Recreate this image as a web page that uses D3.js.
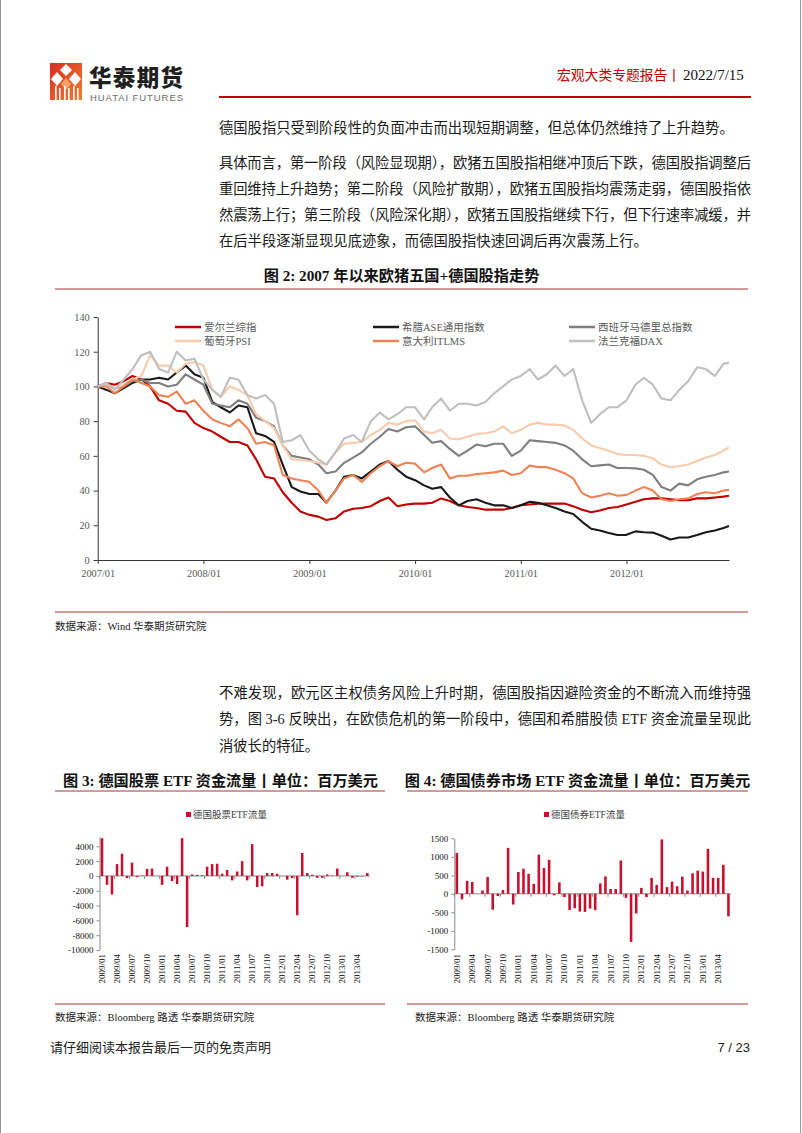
<!DOCTYPE html>
<html><head><meta charset="utf-8">
<script src="https://cdn.jsdelivr.net/npm/d3@7/dist/d3.min.js"></script>
<style>body{margin:0;background:#fff}svg{display:block}</style>
</head><body>
<svg id="page" width="802" height="1133"></svg>
<script>
// ---------- DATA ----------
const seriesNames = ["爱尔兰综指","希腊ASE通用指数","西班牙马德里总指数","葡萄牙PSI","意大利ITLMS","法兰克福DAX"];
const ireland = [100,102,101,103,106,104,100,92,90,86,85.5,79, 76,74,71,68,68,66,58,48,47,39,33,28,
  26,25,23,24,28,29.5,30,31,34,36,31,32, 32.5,32.5,33,35.5,34,31.5,30.5,30,29,29,29,30,
  31.5,32,32.5,32.5,32.5,32.5,31,29,27.5,28.5,30,30.5, 32,33.5,35,35.5,35.5,35,34.5,34.5,35.5,35.5,36,36.5, 37];
const greece = [100,98,96,99,102,104,104,105,104,108,112,107, 105,91,88,85,89,88,73,71.5,68,55,42,39.5,
  38,38,33,40,48,49,47,51,55,57,52,48, 46,43,41,42,36,31.5,34,35,33,31.5,31.5,30,
  31.5,33.5,33,31.5,30,28,26.5,22,18,17,15.5,14.4, 14.5,16.5,16,15.8,14,11.8,13,13,14.4,16,17,18.5, 19.6];
const spain = [100,101,99,100,103,104,102,102,100,101,107,104, 101,90,89,88,92,90,82,80,77,66,60,59,
  58,55,50,51,56,59,62,67,71,75.5,74,76.5, 77,72,67.5,68.5,64,60,63,66.5,65.5,67,67,60,
  63,69,68.5,68,67.5,66,63,58,54,54.5,55,53, 53,52.8,52,49,42,40,44,43,46.5,48,49,50.5, 51];
const portugal = [100,101,99,101,104,106,118,112,112,108,113,114, 112,98,94,100,98,95,84,80,76,66,58,57.5,
  57,56,55,62,67,67.5,68,72,75,79,78,80, 80.5,74,73,75,70,69.5,71,72.5,73,74,77,73,
  75,78,79,78,78,77.5,75,70,66,64.5,63,61, 60.5,60.5,60,58.5,55,53.5,54,55,57,59,60.5,63, 65];
const italy = [100,100,96,100,104,102,100,95,94,97,90,92, 86,81,79,77,81,76,67,68,66,49,47,46,
  45,40,33,40,47,49,45,50,54,57,54,56, 55.5,50.5,53,55,47,48.5,48.5,49.5,50,50.5,51.5,49,
  50,54.5,53.5,53.5,52,50,47,38.5,36,37,38.5,37, 37.5,40,42,40,35,34,35,35.5,38,39,38.5,40, 40.4];
const dax = [100,102,98,104,110,118,120,110,108,120,115,116, 104,98,94,105,104,95,93,95,90,68,69,72,
  63,58,55,62,70,72,68,80,85,81,84,88, 88,81,88,93,86,90,90,89,91,96,100,104,
  106,110,104,107,112,106,110,92,79,84,88,88, 92,101,105,101,93,92,98,103,111,110,106,113, 113.8];
const lineDates = d3.timeMonth.range(new Date(2007,0,1), new Date(2013,0,1)).concat([new Date(2012,11,20)]);
const yTicksMain = [0,20,40,60,80,100,120,140];
const xTicksMain = [2007,2008,2009,2010,2011,2012];

const flowMonths = d3.timeMonth.range(new Date(2009,0,1), new Date(2013,6,1));
const stockFlow = [5100,-1200,-2500,1600,3000,-300,1800,-150,50,950,1000,0,
  -1200,1250,-700,-1100,5100,-6900,200,150,100,1250,1600,1650,
  300,800,-600,600,2000,-600,4300,-1500,-1400,400,400,300,
  0,-500,-300,-5300,3100,400,150,-250,-250,200,50,1000,
  0,500,-250,-100,-50,400];
const bondFlow = [1100,-150,350,320,0,90,455,-430,-60,100,1240,-290,
  590,680,540,270,1060,700,920,-40,310,-90,-440,-390,
  -480,-490,-400,-440,280,470,130,130,900,-110,-1300,-530,
  160,-90,430,240,1470,180,330,205,465,90,555,625,
  600,1215,430,430,785,-610];
const stockTicks = [4000,2000,0,-2000,-4000,-6000,-8000,-10000];
const bondTicks = [1500,1000,500,0,-500,-1000,-1500];

// ---------- STYLE ----------
const SERIF = "'Liberation Serif','Noto Sans CJK SC',serif";
const CJK = "'Noto Sans CJK SC','Liberation Sans',sans-serif";
const colors = ["#C00000","#1A1A1A","#7F7F7F","#F8CBAD","#EE8456","#BFBFBF"];
const svg = d3.select("#page");

// page frame
svg.append("line").attr("x1",0.5).attr("x2",0.5).attr("y1",0).attr("y2",1133).attr("stroke","#9a9a9a");
svg.append("line").attr("x1",800.5).attr("x2",800.5).attr("y1",0).attr("y2",1133).attr("stroke","#9a9a9a");

// ---------- HEADER ----------
const defs = svg.append("defs");
const lg = defs.append("linearGradient").attr("id","lg").attr("x1","0").attr("x2","1").attr("y1","0").attr("y2","1");
lg.append("stop").attr("offset","0").attr("stop-color","#D92B22");
lg.append("stop").attr("offset","1").attr("stop-color","#F0812F");
const logo = svg.append("g");
logo.append("rect").attr("x",50).attr("y",63).attr("width",32).attr("height",37).attr("fill","url(#lg)");
logo.append("path").attr("d","M66 64 L72 70 L66 76 L60 70 Z").attr("fill","#fff");
logo.append("path").attr("d","M57 72 L63 79 L57 86 L51 79 Z M75 72 L81 79 L75 86 L69 79 Z").attr("fill","#fff");
logo.append("path").attr("d","M66 78 L71 84 L66 90 L61 84 Z").attr("fill","#F6A26A");
[55,59,64,68,73,77].forEach((xx,i)=>{
  logo.append("rect").attr("x",xx).attr("y",i%2?88:86).attr("width",1.6).attr("height",i%2?12:14).attr("fill","#fff");
});
svg.append("text").attr("x",89).attr("y",86).attr("font-family",CJK).attr("font-weight",900)
  .attr("font-size",22.5).attr("fill","#1f1f1f").attr("textLength",94).text("华泰期货");
svg.append("text").attr("x",90).attr("y",100.5).attr("font-family","'Liberation Sans',sans-serif")
  .attr("font-size",9.5).attr("fill","#6b6b6b").attr("textLength",93).text("HUATAI FUTURES");
svg.append("text").attr("x",557).attr("y",80).attr("font-family",CJK).attr("font-size",13.8)
  .attr("fill","#C00000").text("宏观大类专题报告");
svg.append("text").attr("x",667).attr("y",80).attr("font-family",CJK).attr("font-size",14)
  .attr("fill","#C00000").text("丨");
svg.append("text").attr("x",683).attr("y",80).attr("font-family",SERIF).attr("font-size",15)
  .attr("fill","#111").text("2022/7/15");
svg.append("line").attr("x1",219).attr("x2",751).attr("y1",97).attr("y2",97)
  .attr("stroke","#C00000").attr("stroke-width",2);

// ---------- BODY TEXT ----------
function para(x,y,t,len){
  const e = svg.append("text").attr("x",x).attr("y",y).attr("font-family",SERIF)
    .attr("font-size",14.3).attr("fill","#1a1a1a").text(t);
  if(len) e.attr("textLength",len).attr("lengthAdjust","spacing");
}
para(219,133,"德国股指只受到阶段性的负面冲击而出现短期调整，但总体仍然维持了上升趋势。");
para(219,168,"具体而言，第一阶段（风险显现期），欧猪五国股指相继冲顶后下跌，德国股指调整后",532);
para(219,194,"重回维持上升趋势；第二阶段（风险扩散期），欧猪五国股指均震荡走弱，德国股指依",532);
para(219,220,"然震荡上行；第三阶段（风险深化期），欧猪五国股指继续下行，但下行速率减缓，并",532);
para(219,246,"在后半段逐渐显现见底迹象，而德国股指快速回调后再次震荡上行。");
para(219,698,"不难发现，欧元区主权债务风险上升时期，德国股指因避险资金的不断流入而维持强",532);
para(219,724,"势，图 3-6 反映出，在欧债危机的第一阶段中，德国和希腊股债 ETF 资金流量呈现此",532);
para(219,751,"消彼长的特征。");

function title(cx,y,t){
  svg.append("text").attr("x",cx).attr("y",y).attr("text-anchor","middle").attr("font-family",SERIF).attr("font-weight","bold")
    .attr("font-size",15.2).attr("fill","#111").text(t);
}
function rule(x1,x2,y){
  svg.append("line").attr("x1",x1).attr("x2",x2).attr("y1",y).attr("y2",y).attr("stroke","#C47878").attr("stroke-width",1.3);
}
function source(x,y,t){
  svg.append("text").attr("x",x).attr("y",y).attr("font-family",SERIF).attr("font-size",10.5)
    .attr("fill","#222").text(t);
}
title(401.5,281,"图 2: 2007 年以来欧猪五国+德国股指走势");
rule(55,748,289);
rule(55,748,612);
source(55,630,"数据来源：Wind  华泰期货研究院");
title(220.5,786,"图 3: 德国股票 ETF 资金流量丨单位：百万美元");
title(577.5,786,"图 4: 德国债券市场 ETF 资金流量丨单位：百万美元");
rule(55,385,791); rule(407,748,791);
rule(55,385,1004); rule(407,748,1004);
source(55,1021,"数据来源：Bloomberg 路透  华泰期货研究院");
source(415,1021,"数据来源：Bloomberg 路透  华泰期货研究院");
svg.append("text").attr("x",50).attr("y",1052).attr("font-family",CJK).attr("font-size",13)
  .attr("fill","#222").text("请仔细阅读本报告最后一页的免责声明");
svg.append("text").attr("x",750).attr("y",1052).attr("text-anchor","end").attr("font-family","'Liberation Sans',sans-serif")
  .attr("font-size",13).attr("fill","#222").text("7 / 23");

// ---------- MAIN LINE CHART ----------
const mx = d3.scaleTime().domain([lineDates[0], lineDates[lineDates.length-1]]).range([97.7, 729]);
const my = d3.scaleLinear().domain([0,140]).range([560, 317]);
const g = svg.append("g");
const yAx = g.append("g").attr("transform","translate(97.7,0)")
  .call(d3.axisLeft(my).tickValues(yTicksMain).tickSize(4).tickSizeOuter(0).tickPadding(4));
const xAx = g.append("g").attr("transform","translate(0,560)")
  .call(d3.axisBottom(mx).tickValues(xTicksMain.map(y=>new Date(y,0,1))).tickFormat(d3.timeFormat("%Y/%m"))
    .tickSize(4).tickSizeOuter(0).tickPadding(6));
[yAx,xAx].forEach(a=>{
  a.selectAll("path,line").attr("stroke","#333").attr("stroke-width",1);
  a.selectAll("text").attr("font-family",SERIF).attr("font-size",10.3).attr("fill","#595959");
});
const allSeries = [ireland,greece,spain,portugal,italy,dax];
const lineGen = d3.line().x((d,i)=>mx(lineDates[i])).y(d=>my(d));
allSeries.forEach((s,k)=>{
  g.append("path").datum(s).attr("d",lineGen).attr("fill","none").attr("stroke",colors[k])
    .attr("stroke-width",2.1).attr("stroke-linejoin","round");
});
// legend
const legX = [175,373,569];
seriesNames.forEach((n,k)=>{
  const lx = legX[k%3], ly = k<3 ? 327 : 341;
  g.append("line").attr("x1",lx).attr("x2",lx+26).attr("y1",ly).attr("y2",ly)
    .attr("stroke",colors[k]).attr("stroke-width",2.5);
  g.append("text").attr("x",lx+29).attr("y",ly+3.8).attr("font-family",SERIF).attr("font-size",10.5)
    .attr("fill","#595959").text(n);
});

// ---------- BAR CHARTS ----------
function barChart(cfg){
  const bx = d3.scaleBand().domain(d3.range(cfg.values.length)).range(cfg.xr).paddingInner(0.5).paddingOuter(0.25);
  const by = d3.scaleLinear().domain(cfg.dom).range(cfg.yr);
  const gg = svg.append("g");
  const ya = gg.append("g").attr("transform",`translate(${cfg.xr[0]},0)`)
    .call(d3.axisLeft(by).tickValues(cfg.ticks).tickFormat(d=>String(d)).tickSize(3).tickSizeOuter(0).tickPadding(3));
  ya.select(".domain").attr("stroke","#8c8c8c");
  ya.selectAll(".tick line").attr("stroke","#8c8c8c");
  ya.selectAll("text").attr("font-family",SERIF).attr("font-size",9).attr("fill","#111");
  gg.append("line").attr("x1",cfg.xr[0]).attr("x2",cfg.xr[1]).attr("y1",by(0)).attr("y2",by(0))
    .attr("stroke","#8c8c8c").attr("stroke-width",1);
  cfg.values.forEach((v,i)=>{
    if(i%3===0){
      const tx = bx(i) - bx.step()*bx.paddingInner()/2;
      gg.append("line").attr("x1",tx).attr("x2",tx).attr("y1",by(0)).attr("y2",by(0)+3).attr("stroke","#8c8c8c");
    }
  });
  gg.selectAll("rect.bar").data(cfg.values).join("rect").attr("class","bar")
    .attr("x",(d,i)=>bx(i)).attr("width",bx.bandwidth())
    .attr("y",d=>by(Math.max(0,d))).attr("height",d=>Math.abs(by(d)-by(0)))
    .attr("fill","#C8102E");
  const fmt = d3.timeFormat("%Y/%m");
  flowMonths.forEach((m,i)=>{
    if(i%3!==0) return;
    const cx = bx(i)+bx.bandwidth()/2;
    gg.append("text").attr("transform",`translate(${cx+3},${cfg.labelTop}) rotate(-90)`)
      .attr("text-anchor","end").attr("font-family",SERIF).attr("font-size",9).attr("fill","#111").text(fmt(m));
  });
  gg.append("rect").attr("x",cfg.legX).attr("y",812).attr("width",5).attr("height",5).attr("fill","#C8102E");
  gg.append("text").attr("x",cfg.legX+7).attr("y",818).attr("font-family",SERIF).attr("font-size",9.5)
    .attr("fill","#404040").text(cfg.legend);
}
barChart({values:stockFlow, xr:[99.5,369.8], dom:[-10000,5300], yr:[950,836.7], ticks:stockTicks,
  labelTop:954, legX:186, legend:"德国股票ETF流量"});
barChart({values:bondFlow, xr:[454.3,731], dom:[-1500,1500], yr:[949.3,838.3], ticks:bondTicks,
  labelTop:954, legX:544, legend:"德国债券ETF流量"});
</script>
</body></html>
